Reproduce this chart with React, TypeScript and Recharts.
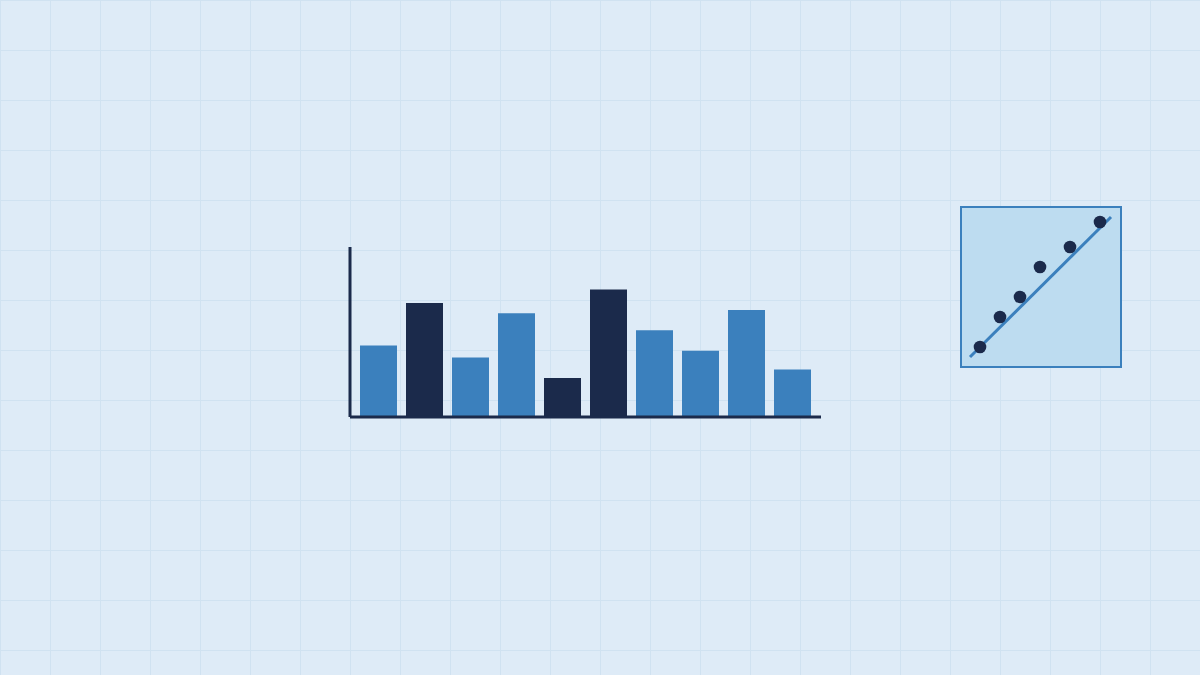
import React from "react";
import {
  BarChart,
  Bar,
  XAxis,
  YAxis,
  Cell,
  ComposedChart,
  Scatter,
  ReferenceArea,
  ReferenceLine,
} from "recharts";

// ---- Bar chart data ----
const categories = ["A", "B", "C", "D", "E", "F", "G", "H", "I", "J"];
const barValues = [42, 67, 35, 61, 23, 75, 51, 39, 63, 28];
const highlighted = [false, true, false, false, true, true, false, false, false, false];

// ---- Inset scatter data ----
const scatterX = [0, 1, 2, 3, 4.5, 6];
const scatterY = [0, 1.5, 2.5, 4, 5, 6.25];
const trendStart = { x: -0.5, y: -0.5 };
const trendEnd = { x: 6.55, y: 6.5 };

const LIGHT = "#3b80bd";
const DARK = "#1b2a4b";
const BG = "#deebf7";
const GRID = "#d0e2f1";

const barData = categories.map((c, i) => ({ name: c, value: barValues[i], hi: highlighted[i] }));
const scatterData = scatterX.map((x, i) => ({ x, y: scatterY[i] }));

export default function App() {
  return (
    <div
      style={{
        position: "absolute",
        left: 0,
        top: 0,
        width: 1200,
        height: 675,
        overflow: "hidden",
        backgroundColor: BG,
        backgroundImage: `linear-gradient(to right, ${GRID} 1.5px, transparent 1.5px), linear-gradient(to bottom, ${GRID} 1.5px, transparent 1.5px)`,
        backgroundSize: "50px 50px",
      }}
    >
      <div style={{ position: "absolute", left: 0, top: 0 }}>
        <BarChart
          width={1200}
          height={675}
          data={barData}
          margin={{ top: 247, left: 349, right: 379, bottom: 257 }}
          barCategoryGap={4.5}
        >
          <XAxis
            dataKey="name"
            height={1}
            tick={false}
            tickLine={false}
            axisLine={{ stroke: DARK, strokeWidth: 3 }}
            padding={{ left: 5.5, right: 5.5 }}
          />
          <YAxis
            width={1}
            domain={[0, 100]}
            tick={false}
            tickLine={false}
            axisLine={{ stroke: DARK, strokeWidth: 3 }}
          />
          <Bar dataKey="value" isAnimationActive={false}>
            {barData.map((d, i) => (
              <Cell key={i} fill={d.hi ? DARK : LIGHT} />
            ))}
          </Bar>
        </BarChart>
      </div>
      <div style={{ position: "absolute", left: 951, top: 197 }}>
        <ComposedChart
          width={180}
          height={180}
          margin={{ top: 10, left: 10, right: 10, bottom: 10 }}
        >
          <XAxis type="number" dataKey="x" domain={[-0.95, 7.05]} hide allowDataOverflow />
          <YAxis type="number" dataKey="y" domain={[-1, 7]} hide allowDataOverflow />
          <ReferenceArea
            x1={-0.95}
            x2={7.05}
            y1={-1}
            y2={7}
            fill="#bddcf0"
            fillOpacity={1}
            stroke={LIGHT}
            strokeWidth={2}
            ifOverflow="visible"
          />
          <Scatter
            data={scatterData}
            fill={DARK}
            isAnimationActive={false}
            shape={(p: any) => <circle cx={p.cx} cy={p.cy} r={6.3} fill={DARK} />}
          />
          <ReferenceLine
            segment={[trendStart, trendEnd]}
            stroke={LIGHT}
            strokeWidth={3}
            ifOverflow="visible"
          />
        </ComposedChart>
      </div>
    </div>
  );
}
